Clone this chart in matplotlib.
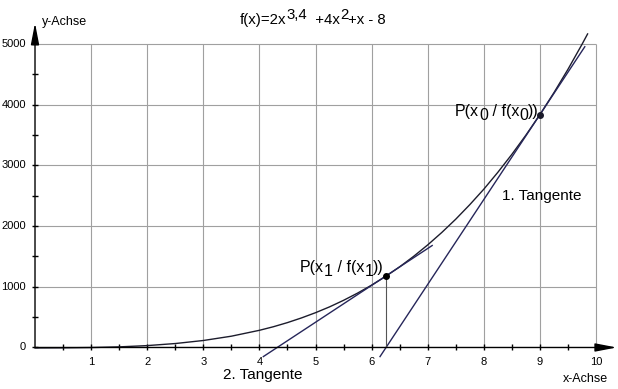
"""plot.py - Funktion mit zwei Tangenten (Newton-Verfahren)"""

import matplotlib
matplotlib.use('Agg')
import matplotlib.pyplot as plt

plt.rcParams['font.family'] = ['Liberation Sans', 'DejaVu Sans']

# Werte der Kurve
kurve_x = [0, 0.5, 1, 1.5, 2, 2.5, 3, 3.5, 4, 4.25, 4.5, 4.75, 5, 5.25,
           5.5, 5.75, 6, 6.25, 6.5, 6.75, 7, 7.25, 7.5, 7.75, 8, 8.25,
           8.5, 8.75, 9, 9.25, 9.5, 9.75, 9.85]
kurve_y = [-8, -6, -1, 10, 31, 65, 115, 186, 283, 342, 410, 487, 573, 669,
           777, 896, 1027, 1171, 1329, 1502, 1690, 1894, 2114, 2353, 2608,
           2886, 3182, 3498, 3836, 4198, 4583, 4994, 5166]

# Tangenten (Endpunkte) und Beruehrpunkte
tangente1_x = [6.15, 9.8]
tangente1_y = [-150, 4955]
tangente2_x = [4.07, 7.08]
tangente2_y = [-150, 1680]
p0 = (9, 3836)
p1 = (6.26, 1177)

x_ticks = [1, 2, 3, 4, 5, 6, 7, 8, 9, 10]
y_ticks = [0, 1000, 2000, 3000, 4000, 5000]

W, H = 618, 389
fig = plt.figure(figsize=(W / 100, H / 100), dpi=100)
ax = fig.add_axes([0, 0, 1, 1])
ax.set_xlim(-0.624, 10.392)
ax.set_ylim(-684, 5725)
ax.axis('off')


def px(xp, yp):
    """Pixel -> Figurenkoordinaten"""
    return xp / W, 1 - yp / H


def kette(x, y, teile, size):
    """Text aus Stuecken mit Hoch-/Tiefstellung (dy in Pixeln)"""
    t = ax.text(*px(x, y), teile[0][0], transform=fig.transFigure,
                fontsize=size, va='baseline', ha='left')
    prev_dy = teile[0][1]
    for s, dy in teile[1:]:
        t = ax.annotate(s, xy=(1, 0), xycoords=t, xytext=(0, dy - prev_dy),
                        textcoords='offset pixels', fontsize=size,
                        va='bottom', ha='left', annotation_clip=False)
        prev_dy = dy
    return t


# Gitter
grau = '#a0a0a0'
ax.vlines(x_ticks, 0, 5000, colors=grau, lw=0.8)
ax.hlines(y_ticks[1:], 0, 10, colors=grau, lw=0.8)

# Achsen mit Pfeilen
pfeil = dict(arrowstyle='-|>,head_length=1.3,head_width=0.25', color='black',
             lw=1.0, shrinkA=0, shrinkB=0, mutation_scale=10)
ax.annotate('', xy=(10.37, 0), xytext=(0, 0), arrowprops=pfeil)
ax.annotate('', xy=(0, 5346), xytext=(0, 0), arrowprops=pfeil)

# Striche
xs = [i * 0.5 for i in range(1, 21)]
ys = [i * 500 for i in range(0, 11)]
ax.plot(xs, [0] * len(xs), ls='none', marker='|', ms=5, mew=1.0, color='black')
ax.plot([0] * len(ys), ys, ls='none', marker='_', ms=5, mew=1.0, color='black')

for x in x_ticks:
    ax.annotate(str(x), xy=(x, 0), xytext=(0, -10), textcoords='offset pixels',
                ha='center', va='top', fontsize=8)
for y in y_ticks:
    ax.annotate(str(y), xy=(0, y), xytext=(-9, 0), textcoords='offset pixels',
                ha='right', va='center', fontsize=8)

# Kurve und Tangenten
ax.plot(kurve_x, kurve_y, color='#1c1c2c', lw=1.0)
ax.plot(tangente1_x, tangente1_y, color='#26265a', lw=1.0)
ax.plot(tangente2_x, tangente2_y, color='#26265a', lw=1.0)
ax.plot([p1[0], p1[0]], [0, p1[1]], color='#555555', lw=0.8)
ax.plot(*p0, 'o', color='#1a1a2a', ms=4)
ax.plot(*p1, 'o', color='black', ms=4)

# Beschriftungen
kette(240, 24, [('f(x)=2x', 0), ('3,4', 5), ('  +4x', 0), ('2', 5),
                ('+x - 8', 0)], 10.8)
kette(455, 116, [('P(x', 0), ('0', -4), (' / f(x', 0), ('0', -4),
                 ('))', 0)], 11.5)
kette(300, 272, [('P(x', 0), ('1', -4), (' / f(x', 0), ('1', -4),
                 ('))', 0)], 11.5)
ax.text(*px(502, 200), '1. Tangente', transform=fig.transFigure,
        fontsize=11, va='baseline')
ax.text(*px(223, 379), '2. Tangente', transform=fig.transFigure,
        fontsize=11, va='baseline')
ax.text(*px(563, 382), 'x-Achse', transform=fig.transFigure,
        fontsize=9, va='baseline')
ax.text(*px(42, 25), 'y-Achse', transform=fig.transFigure,
        fontsize=9, va='baseline')

fig.savefig('out.png', dpi=100)
